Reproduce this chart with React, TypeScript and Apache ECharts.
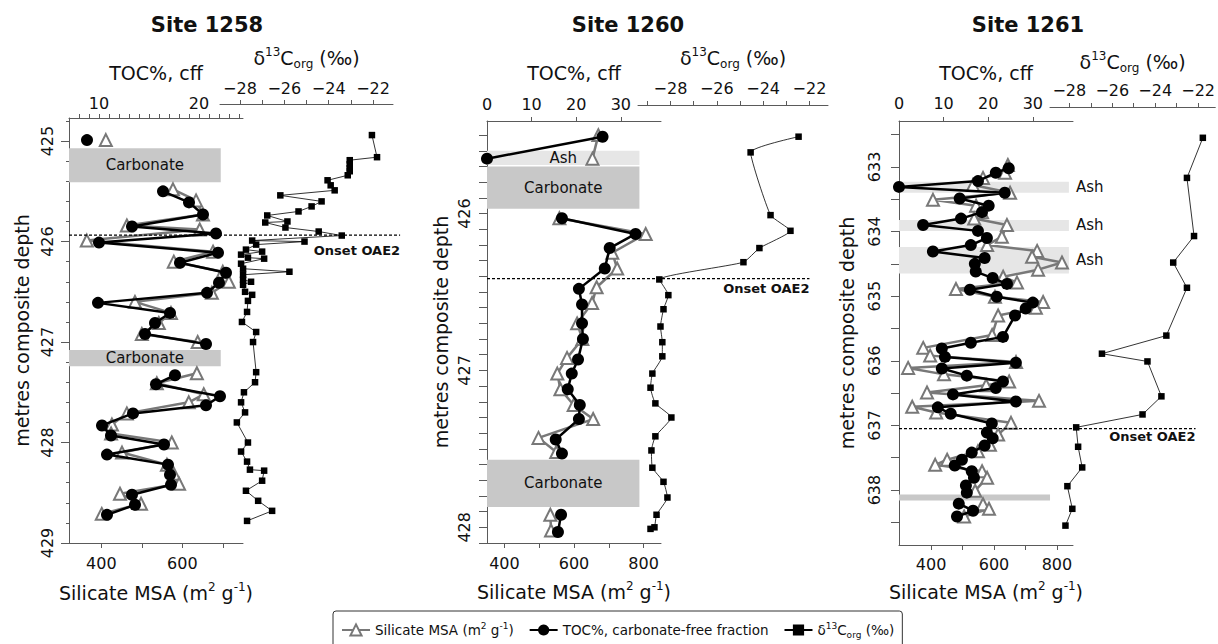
import React, { useEffect, useRef } from "react";
import * as echarts from "echarts";

const FONT = "DejaVu Sans";

// ---------------- Site 1258 ----------------
const site1258TocDepth = [424.99, null, 425.50, 425.61, 425.73, 425.85, 425.92, 426.01, 426.11, 426.21, 426.31, 426.41, 426.51, 426.61, 426.71, 426.81, 426.92, 427.02, null, 427.33, 427.42, 427.54, 427.63, 427.71, 427.83, 427.93, 428.02, 428.12, 428.22, 428.32, 428.42, 428.52, 428.62, 428.72];
const site1258Toc = [8.8, null, 16.4, 19.0, 20.4, 13.3, 21.7, 10.0, 21.9, 18.1, 22.7, 22.0, 20.8, 9.9, 17.1, 15.6, 14.6, 20.7, null, 17.6, 15.7, 22.1, 20.7, 13.4, 10.3, 11.2, 16.5, 10.8, 16.9, 17.1, 17.2, 13.3, 13.6, 10.8];
const site1258MsaDepth = [424.99, null, 425.48, 425.59, 425.73, 425.84, 425.88, 425.99, 426.10, 426.20, 426.30, 426.40, 426.51, 426.60, 426.71, 426.81, 426.92, 427.00, null, 427.31, 427.41, 427.52, 427.60, 427.71, 427.82, 427.91, 428.00, 428.10, 428.22, 428.31, 428.41, 428.51, 428.61, 428.71];
const site1258Msa = [411, null, 577, 634, 651, 463, 643, 364, 676, 579, 700, 715, 673, 483, 572, 542, 500, 638, null, 636, 537, 653, 616, 463, 426, 424, 574, 451, 562, 579, 592, 446, 498, 401];
const site1258D13cDepth = [424.94, 425.16, 425.19, 425.23, 425.27, 425.30, 425.34, 425.39, 425.44, 425.49, 425.54, 425.60, 425.65, 425.70, 425.74, 425.80, 425.81, 425.86, 425.90, 425.94, 425.99, 426.00, 426.03, 426.08, 426.10, 426.13, 426.16, 426.17, 426.22, 426.27, 426.30, 426.33, 426.38, 426.40, 426.43, 426.50, 426.53, 426.59, 426.70, 426.80, 426.90, 427.00, 427.30, 427.40, 427.50, 427.60, 427.70, 427.80, 428.00, 428.09, 428.19, 428.27, 428.28, 428.38, 428.48, 428.58, 428.68, 428.78];
const site1258D13c = [-22.05, -21.82, -23.05, -23.05, -23.05, -23.05, -23.14, -24.05, -23.91, -23.73, -26.18, -24.32, -24.77, -25.36, -26.77, -25.86, -26.86, -25.95, -24.45, -23.41, -27.45, -25.09, -27.27, -27.73, -27.00, -27.95, -27.64, -26.91, -27.95, -27.86, -25.77, -27.86, -27.86, -27.50, -27.86, -27.77, -27.45, -27.64, -27.68, -27.91, -27.27, -27.41, -27.27, -27.32, -27.82, -27.95, -27.77, -28.14, -27.64, -27.95, -27.68, -27.55, -26.91, -27.00, -27.73, -27.18, -26.55, -27.68];
const site1258BoxFrom = [425.07, 427.08];
const site1258BoxTo = [425.41, 427.24];
const site1258BoxLabel = ["Carbonate", "Carbonate"];
const site1258BoxKind = ["carb", "carb"];
const site1258Onset = 425.935;

// ---------------- Site 1260 ----------------
const site1260TocDepth = [425.51, 425.65, null, 426.03, 426.13, 426.22, 426.35, 426.48, 426.58, 426.70, 426.80, 426.93, 427.02, 427.12, 427.22, 427.31, 427.44, 427.53, null, 427.92, 428.03];
const site1260Toc = [25.9, 0, null, 16.8, 33.3, 27.5, 26.4, 20.6, 21.3, 21.3, 21.5, 20.4, 19.0, 18.1, 20.8, 20.6, 15.4, 16.8, null, 16.6, 15.9];
const site1260MsaDepth = [425.50, 425.65, null, 426.03, 426.13, 426.25, 426.35, 426.47, 426.57, 426.70, 426.80, 426.92, 427.02, 427.12, 427.22, 427.31, 427.43, 427.52, null, 427.92, 428.02];
const site1260Msa = [670, 653, null, 558, 806, 710, 724, 665, 652, 609, 624, 580, 552, 561, 599, 655, 498, 549, null, 532, 534];
const site1260D13cDepth = [425.51, 425.61, 426.01, 426.11, 426.22, 426.31, 426.42, 426.52, 426.61, 426.72, 426.82, 426.91, 427.02, 427.11, 427.21, 427.30, 427.42, 427.51, 427.62, 427.71, 427.81, 427.92, 428.00, 428.01];
const site1260D13c = [-22.47, -24.54, -23.68, -22.82, -24.16, -24.85, -28.48, -28.09, -28.30, -28.43, -28.35, -28.35, -28.78, -28.86, -28.65, -27.96, -28.65, -28.82, -28.78, -28.30, -28.13, -28.60, -28.69, -28.86];
const site1260BoxFrom = [425.60, 425.70, 427.57];
const site1260BoxTo = [425.69, 425.97, 427.87];
const site1260BoxLabel = ["Ash", "Carbonate", "Carbonate"];
const site1260BoxKind = ["ash", "carb", "carb"];
const site1260Onset = 426.415;

// ---------------- Site 1261 ----------------
const site1261TocDepth = [633.02, 633.09, 633.22, 633.31, 633.40, 633.49, 633.60, 633.70, 633.80, 633.90, 633.99, 634.10, 634.21, 634.31, 634.41, 634.50, 634.62, 634.72, 634.81, 634.90, 635.01, 635.10, 635.19, 635.30, 635.63, 635.72, 635.81, 635.94, 636.03, 636.12, 636.23, 636.32, 636.42, 636.52, 636.63, 636.72, 636.82, 636.97, 637.11, 637.20, 637.31, 637.42, 637.53, 637.62, 637.71, 637.81, 637.93, 638.04, null, 638.21, 638.32, 638.41];
const site1261Toc = [24.6, 21.7, 17.7, 0, 23.7, 13.6, 20.1, 18.6, 13.9, 5.4, 17.7, 19.7, 16.1, 7.6, 19.2, 17.0, 17.2, 21.0, 24.2, 15.9, 21.9, 30.0, 28.4, 26.0, 23.3, 16.1, 9.6, 10.3, 26.2, 9.6, 15.2, 23.3, 21.7, 12.1, 26.2, 8.7, 11.6, 20.8, 19.7, 21.0, 19.2, 16.3, 14.1, 12.5, 16.3, 16.8, 15.0, 15.2, null, 13.4, 16.6, 13.0];
const site1261MsaDepth = [632.97, 633.09, 633.17, 633.28, 633.40, 633.51, 633.60, 633.70, 633.80, 633.90, 634.08, 634.21, 634.30, 634.39, 634.48, 634.59, 634.70, 634.79, 634.89, 635.01, 635.09, 635.18, 635.30, 635.60, 635.80, 635.92, 636.02, 636.11, 636.21, 636.32, 636.38, 636.49, 636.62, 636.71, 636.80, 636.96, 637.14, 637.30, 637.40, 637.53, 637.61, 637.71, 637.81, 638.01, null, 638.22, 638.29, 638.41];
const site1261Msa = [644, 635, 565, 533, 651, 406, 543, 562, 537, 641, 625, 578, 737, 721, 816, 740, 629, 673, 479, 603, 756, 733, 613, 594, 375, 397, 670, 327, 441, 648, 575, 387, 743, 340, 416, 654, 613, 587, 549, 451, 413, 562, 578, 540, null, 565, 584, 505];
const site1261D13cDepth = [632.55, 633.17, 634.07, 634.48, 634.87, 635.61, 635.89, 636.01, 636.55, 636.83, 637.03, 637.33, 637.65, 637.94, 638.29, 638.55];
const site1261D13c = [-21.78, -22.52, -22.19, -23.16, -22.52, -23.48, -26.48, -24.36, -23.71, -24.59, -27.68, -27.59, -27.40, -28.09, -27.86, -28.18];
const site1261BoxFrom = [633.23, 633.82, 634.24, 638.07];
const site1261BoxTo = [633.40, 633.99, 634.65, 638.16];
const site1261BoxLabel = ["Ash", "Ash", "Ash", ""];
const site1261BoxKind = ["ashR", "ashR", "ashR", "bar"];
const site1261Onset = 637.05;

// ---------------- helpers ----------------
function steps(a: number, b: number, s: number) {
  const n = Math.round((b - a) / s);
  return Array.from({ length: n + 1 }, (_, k) => +(a + k * s).toFixed(3));
}

function segments(depths: (number | null)[], vals: (number | null)[]) {
  const out: number[][][] = [];
  let cur: number[][] = [];
  depths.forEach((d, i) => {
    const v = vals[i];
    if (d == null || v == null) {
      if (cur.length) out.push(cur);
      cur = [];
    } else cur.push([v, d]);
  });
  if (cur.length) out.push(cur);
  return out;
}

const panels = [
  {
    title: "Site 1258", titleX: 207,
    left: 69, top: 118, width: 174, height: 425,
    dLeft: 220, dWidth: 173, dOffset: 14,
    yMin: 424.77, yMax: 429, yLabels: [425, 426, 427, 428, 429], yTicks: steps(424.8, 429, 0.2), yTickLen: 3, yMajor: true,
    yLabelMargin: 14, yNameGap: 38,
    tocMin: 7, tocMax: 24.4, tocLabels: [10, 20], tocTicks: steps(8, 24, 1), tocNameGap: 36, tocLabelMargin: 7,
    msaMin: 320, msaMax: 750, msaLabels: [400, 600], msaTicks: [400, 500, 600, 700], msaNameGap: 38, msaLabelMargin: 12,
    dMin: -28.9, dMax: -21.1, dLabels: [-28, -26, -24, -22], dTicks: steps(-28, -22, 1), dNameGap: 34, dLabelMargin: 8,
    boxX: [[320, 695], [320, 695]],
    onset: site1258Onset, onsetRight: -20.78, onsetDy: 15,
    tocD: site1258TocDepth, toc: site1258Toc, msaD: site1258MsaDepth, msa: site1258Msa, dD: site1258D13cDepth, d: site1258D13c,
    boxFrom: site1258BoxFrom, boxTo: site1258BoxTo, boxLabel: site1258BoxLabel, boxKind: site1258BoxKind,
    smooth: false,
  },
  {
    title: "Site 1260", titleX: 628,
    left: 487, top: 121, width: 174, height: 422,
    dLeft: 638, dWidth: 190, dOffset: 16,
    yMin: 425.41, yMax: 428.1, yLabels: [426, 427, 428], yTicks: steps(425.5, 428.1, 0.1), yTickLen: 8, yMajor: false,
    yLabelMargin: 15, yNameGap: 37,
    tocMin: 0, tocMax: 39, tocLabels: [0, 10, 20, 30], tocTicks: [10, 20, 30], tocNameGap: 39, tocLabelMargin: 9,
    msaMin: 350, msaMax: 850, msaLabels: [400, 600, 800], msaTicks: [400, 500, 600, 700, 800], msaNameGap: 37, msaLabelMargin: 12,
    dMin: -29.4, dMax: -21.2, dLabels: [-28, -26, -24, -22], dTicks: steps(-29, -22, 1), dNameGap: 35, dLabelMargin: 9,
    boxX: [[350, 788], [350, 788], [350, 788]],
    onset: site1260Onset, onsetRight: -22.0, onsetDy: 10,
    tocD: site1260TocDepth, toc: site1260Toc, msaD: site1260MsaDepth, msa: site1260Msa, dD: site1260D13cDepth, d: site1260D13c,
    boxFrom: site1260BoxFrom, boxTo: site1260BoxTo, boxLabel: site1260BoxLabel, boxKind: site1260BoxKind,
    smooth: 0.15,
  },
  {
    title: "Site 1261", titleX: 1028,
    left: 899, top: 121, width: 174, height: 424,
    dLeft: 1050, dWidth: 168, dOffset: 14,
    yMin: 632.29, yMax: 638.85, yLabels: [633, 634, 635, 636, 637, 638], yTicks: steps(632.5, 638.5, 0.5), yTickLen: 8, yMajor: false,
    yLabelMargin: 17, yNameGap: 43,
    tocMin: 0, tocMax: 39, tocLabels: [0, 10, 20, 30], tocTicks: [10, 20, 30], tocNameGap: 39, tocLabelMargin: 10,
    msaMin: 298, msaMax: 851, msaLabels: [400, 600, 800], msaTicks: [400, 500, 600, 700, 800], msaNameGap: 35, msaLabelMargin: 11,
    dMin: -28.9, dMax: -21.2, dLabels: [-28, -26, -24, -22], dTicks: steps(-28, -22, 1), dNameGap: 33, dLabelMargin: 9,
    boxX: [[298, 838], [298, 838], [298, 838], [298, 778]],
    onset: site1261Onset, onsetRight: -22.12, onsetDy: 8,
    tocD: site1261TocDepth, toc: site1261Toc, msaD: site1261MsaDepth, msa: site1261Msa, dD: site1261D13cDepth, d: site1261D13c,
    boxFrom: site1261BoxFrom, boxTo: site1261BoxTo, boxLabel: site1261BoxLabel, boxKind: site1261BoxKind,
    smooth: false,
  },
];

const AXIS = "#5a5a5a";
const GRAY = "#787878";
const richName = {
  t: { fontSize: 19, lineHeight: 24, fontFamily: FONT, color: "#111" },
  s: { fontSize: 12, lineHeight: 12, verticalAlign: "top", fontFamily: FONT, color: "#111" },
  b: { fontSize: 12, lineHeight: 12, verticalAlign: "bottom", fontFamily: FONT, color: "#111" },
};

function buildOption() {
  const grid: any[] = [];
  const xAxis: any[] = [];
  const yAxis: any[] = [];
  const series: any[] = [];

  panels.forEach((p, i) => {
    const gm = 2 * i;
    const gd = 2 * i + 1;
    grid.push({ left: p.left, top: p.top, width: p.width, height: p.height });
    grid.push({ left: p.dLeft, top: p.top, width: p.dWidth, height: p.height });

    const line = { show: true, onZero: false, lineStyle: { color: AXIS, width: 1 } };
    const lab = (margin: number, vals: number[]) => ({
      show: true, margin, customValues: vals, color: "#111", fontSize: 16, fontFamily: FONT,
      formatter: (v: number) => String(v).replace("-", "\u2212"),
    });
    const tick = (len: number, vals: number[]) => ({
      show: true, inside: false, length: len, customValues: vals, lineStyle: { color: AXIS, width: 1 },
    });

    // TOC (top)
    xAxis.push({
      type: "value", gridIndex: gm, position: "top", min: p.tocMin, max: p.tocMax,
      axisLine: line, axisTick: tick(4, p.tocTicks), axisLabel: lab(p.tocLabelMargin, p.tocLabels),
      splitLine: { show: false },
      name: "TOC%, cff", nameLocation: "middle", nameGap: p.tocNameGap,
      nameTextStyle: { fontSize: 19, fontFamily: FONT, color: "#111" },
    });
    // MSA (bottom)
    xAxis.push({
      type: "value", gridIndex: gm, position: "bottom", min: p.msaMin, max: p.msaMax,
      axisLine: line, axisTick: tick(5, p.msaTicks), axisLabel: lab(p.msaLabelMargin, p.msaLabels),
      splitLine: { show: false },
      name: "{t|Silicate MSA (m}{s|2}{t| g}{s|-1}{t|)}", nameLocation: "middle", nameGap: p.msaNameGap,
      nameTextStyle: { rich: richName },
    });
    // d13C (top, offset)
    xAxis.push({
      type: "value", gridIndex: gd, position: "top", offset: p.dOffset, min: p.dMin, max: p.dMax,
      axisLine: line, axisTick: tick(4, p.dTicks), axisLabel: lab(p.dLabelMargin, p.dLabels),
      splitLine: { show: false },
      name: "{t|\u03b4}{s|13}{t|C}{b|org}{t| (\u2030)}", nameLocation: "middle", nameGap: p.dNameGap,
      nameTextStyle: { rich: richName },
    });

    // depth axes
    yAxis.push({
      type: "value", gridIndex: gm, position: "left", min: p.yMin, max: p.yMax, inverse: true,
      axisLine: line, axisTick: tick(p.yTickLen, p.yTicks),
      axisLabel: { ...lab(p.yLabelMargin, p.yLabels), rotate: 90 },
      splitLine: { show: false },
      name: "metres composite depth", nameLocation: "middle", nameRotate: 90, nameGap: p.yNameGap,
      nameTextStyle: { fontSize: 19, fontFamily: FONT, color: "#111" },
    });
    yAxis.push({
      type: "value", gridIndex: gm, position: "left", min: p.yMin, max: p.yMax, inverse: true, show: p.yMajor,
      axisLine: { show: false, onZero: false }, axisTick: tick(8, p.yLabels),
      axisLabel: { show: false }, splitLine: { show: false },
    });
    yAxis.push({
      type: "value", gridIndex: gd, position: "left", min: p.yMin, max: p.yMax, inverse: true, show: false,
      axisLine: { show: false, onZero: false }, splitLine: { show: false },
    });

    const xToc = 3 * i, xMsa = 3 * i + 1, xD = 3 * i + 2;
    const yM = 3 * i, yD = 3 * i + 2;

    const boxes = p.boxFrom.map((f, k) => {
      const kind = p.boxKind[k];
      const color = kind === "carb" || kind === "bar" ? "#c8c8c8" : "#e6e6e6";
      return [
        {
          name: p.boxLabel[k], xAxis: p.boxX[k][0], yAxis: f, itemStyle: { color },
          label: {
            show: p.boxLabel[k] !== "", position: kind === "ashR" ? "right" : "inside", distance: 7,
            color: "#111", fontSize: 15, fontFamily: FONT,
          },
        },
        { xAxis: p.boxX[k][1], yAxis: p.boxTo[k] },
      ];
    });

    segments(p.msaD, p.msa).forEach((seg, k) => {
      series.push({
        type: "line", name: "MSA", xAxisIndex: xMsa, yAxisIndex: yM, data: seg, clip: false,
        symbol: "emptyTriangle", symbolSize: 12, showSymbol: true, z: 3,
        lineStyle: { color: GRAY, width: 2.5 },
        itemStyle: { color: GRAY, borderColor: GRAY, borderWidth: 2 },
        ...(k === 0 ? { markArea: { silent: true, z: 1, data: boxes } } : {}),
      });
    });
    segments(p.tocD, p.toc).forEach((seg) => {
      series.push({
        type: "line", name: "TOC", xAxisIndex: xToc, yAxisIndex: yM, data: seg, clip: false,
        symbol: "circle", symbolSize: 12, showSymbol: true, z: 4,
        lineStyle: { color: "#000", width: 2.5 }, itemStyle: { color: "#000" },
      });
    });
    series.push({
      type: "line", name: "D13C", xAxisIndex: xD, yAxisIndex: yD, data: segments(p.dD, p.d)[0], clip: false,
      symbol: "rect", symbolSize: 6.5, showSymbol: true, z: 4, smooth: p.smooth,
      lineStyle: { color: "#000", width: 0.8 }, itemStyle: { color: "#000" },
    });
  });

  const legendRich = {
    t: { fontSize: 13.5, lineHeight: 18, fontFamily: FONT, color: "#111" },
    s: { fontSize: 9, lineHeight: 9, verticalAlign: "top", fontFamily: FONT, color: "#111" },
    b: { fontSize: 9, lineHeight: 9, verticalAlign: "bottom", fontFamily: FONT, color: "#111" },
  };

  return {
    animation: false,
    backgroundColor: "#fff",
    grid, xAxis, yAxis, series,
    legend: {
      data: ["MSA", "TOC", "D13C"], left: 333, top: 611, selectedMode: false,
      itemWidth: 28, itemHeight: 14, itemGap: 15, padding: [10, 8, 14, 8],
      borderColor: "#333", borderWidth: 1, borderRadius: 3,
      formatter: (n: string) =>
        n === "MSA" ? "{t|Silicate MSA (m}{s|2}{t| g}{s|-1}{t|)}" :
        n === "TOC" ? "{t|TOC%, carbonate-free fraction}" : "{t|\u03b4}{s|13}{t|C}{b|org}{t| (\u2030)}",
      textStyle: { rich: legendRich, fontFamily: FONT, fontSize: 13.5 },
    },
  };
}

export default function App() {
  const ref = useRef<HTMLDivElement>(null);
  useEffect(() => {
    if (!ref.current) return;
    const chart = echarts.init(ref.current, undefined, { renderer: "svg" });
    chart.setOption(buildOption() as any);
    const g: any[] = [];
    panels.forEach((p, i) => {
      g.push({
        type: "text", x: p.titleX, y: 25, z: 20,
        style: { text: p.title, font: `bold 21px "${FONT}"`, fill: "#111", align: "center", verticalAlign: "middle" },
      });
      const y = chart.convertToPixel({ yAxisIndex: 3 * i } as any, p.onset) as any as number;
      const x0 = chart.convertToPixel({ xAxisIndex: 3 * i + 1 } as any, p.msaMin) as any as number;
      const x1 = chart.convertToPixel({ xAxisIndex: 3 * i + 2 } as any, p.onsetRight) as any as number;
      g.push({
        type: "line", z: 20, shape: { x1: x0, y1: y, x2: x1, y2: y },
        style: { stroke: "#000", lineWidth: 1.2, lineDash: [3, 2] },
      });
      g.push({
        type: "text", x: x1, y: y + p.onsetDy, z: 20,
        style: { text: "Onset OAE2", font: `bold 13px "${FONT}"`, fill: "#111", align: "right", verticalAlign: "middle" },
      });
    });
    chart.setOption({ graphic: g });
    return () => chart.dispose();
  }, []);
  return (
    <div
      ref={ref}
      style={{ position: "absolute", left: 0, top: 0, width: 1218, height: 644, background: "#fff" }}
    />
  );
}
